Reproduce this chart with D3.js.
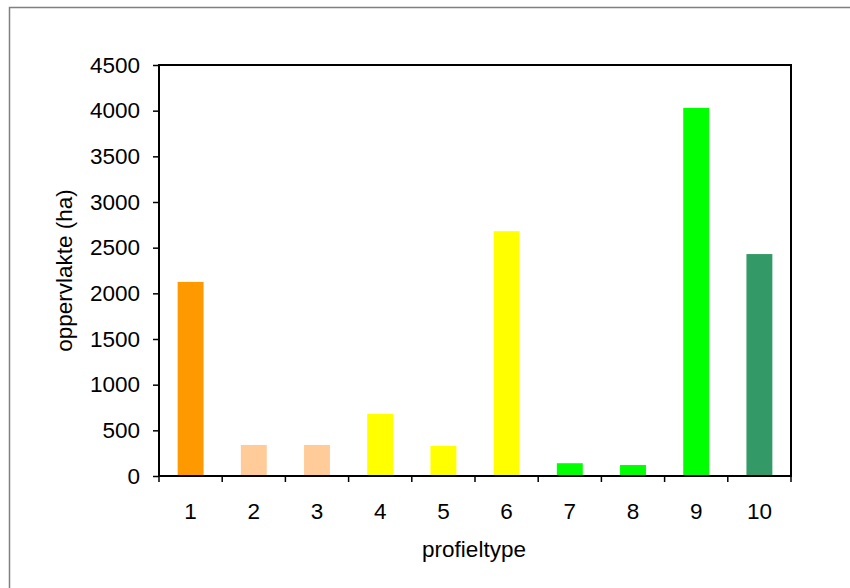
<!DOCTYPE html>
<html>
<head>
  <script src="https://d3js.org/d3.v7.min.js"></script>
  <style>
    body { margin: 0; background: #fff; }
    text { font-family: "Liberation Sans", Arial, sans-serif; }
  </style>
</head>
<body>
  <div id="chart"></div>
  <script>
    var categories = ["1", "2", "3", "4", "5", "6", "7", "8", "9", "10"];
    var values = [2125, 340, 340, 680, 330, 2680, 140, 120, 4030, 2430];
    var colors = ["#FF9900", "#FFCC99", "#FFCC99", "#FFFF00", "#FFFF00", "#FFFF00",
                  "#00FF00", "#00FF00", "#00FF00", "#339966"];
    var yTicks = [0, 500, 1000, 1500, 2000, 2500, 3000, 3500, 4000, 4500];

    var width = 850, height = 588;
    var margin = { top: 65, right: 59, bottom: 112, left: 159 };
    var fontSize = 22.5;

    var svg = d3.select("#chart").append("svg")
      .attr("width", width)
      .attr("height", height);

    // outer chart border
    svg.append("rect")
      .attr("x", 9.5).attr("y", 7.5)
      .attr("width", 860).attr("height", 600)
      .attr("fill", "none")
      .attr("stroke", "#808080")
      .attr("stroke-width", 1.5);

    var x = d3.scaleBand()
      .domain(categories)
      .range([margin.left, width - margin.right])
      .paddingInner(0.59)
      .paddingOuter(0.295);

    var y = d3.scaleLinear()
      .domain([0, 4500])
      .range([height - margin.bottom, margin.top]);

    svg.append("g").selectAll("rect.bar")
      .data(values)
      .enter()
      .append("rect")
      .attr("class", "bar")
      .attr("x", function(d, i) { return x(categories[i]); })
      .attr("y", function(d) { return y(d); })
      .attr("width", x.bandwidth())
      .attr("height", function(d) { return y(0) - y(d); })
      .attr("fill", function(d, i) { return colors[i]; });

    // plot frame
    svg.append("rect")
      .attr("x", margin.left).attr("y", margin.top)
      .attr("width", width - margin.right - margin.left)
      .attr("height", height - margin.bottom - margin.top)
      .attr("fill", "none")
      .attr("stroke", "#000")
      .attr("stroke-width", 2);

    var yAxis = svg.append("g")
      .attr("transform", "translate(" + margin.left + ",0)")
      .call(d3.axisLeft(y).tickValues(yTicks).tickSize(6).tickPadding(13).tickFormat(d3.format("d")));
    yAxis.select(".domain").remove();
    yAxis.selectAll(".tick line").attr("stroke", "#000").attr("stroke-width", 1.5);
    yAxis.selectAll(".tick text").attr("font-size", fontSize).attr("fill", "#000")
      .attr("font-family", "'Liberation Sans', Arial, sans-serif");

    // x ticks sit between categories
    var step = x.step();
    var xTickPos = d3.range(categories.length + 1).map(function(i) {
      return margin.left + i * step;
    });
    svg.append("g").selectAll("line")
      .data(xTickPos)
      .enter()
      .append("line")
      .attr("x1", function(d) { return d; })
      .attr("x2", function(d) { return d; })
      .attr("y1", y(0))
      .attr("y2", y(0) + 6)
      .attr("stroke", "#000")
      .attr("stroke-width", 1.5);

    svg.append("g").selectAll("text")
      .data(categories)
      .enter()
      .append("text")
      .attr("x", function(d) { return x(d) + x.bandwidth() / 2; })
      .attr("y", 519)
      .attr("text-anchor", "middle")
      .attr("font-size", fontSize)
      .text(function(d) { return d; });

    svg.append("text")
      .attr("x", 474)
      .attr("y", 557)
      .attr("text-anchor", "middle")
      .attr("font-size", fontSize)
      .text("profieltype");

    svg.append("text")
      .attr("transform", "translate(72," + ((margin.top + height - margin.bottom) / 2) + ") rotate(-90)")
      .attr("text-anchor", "middle")
      .attr("font-size", fontSize)
      .text("oppervlakte (ha)");
  </script>
</body>
</html>
